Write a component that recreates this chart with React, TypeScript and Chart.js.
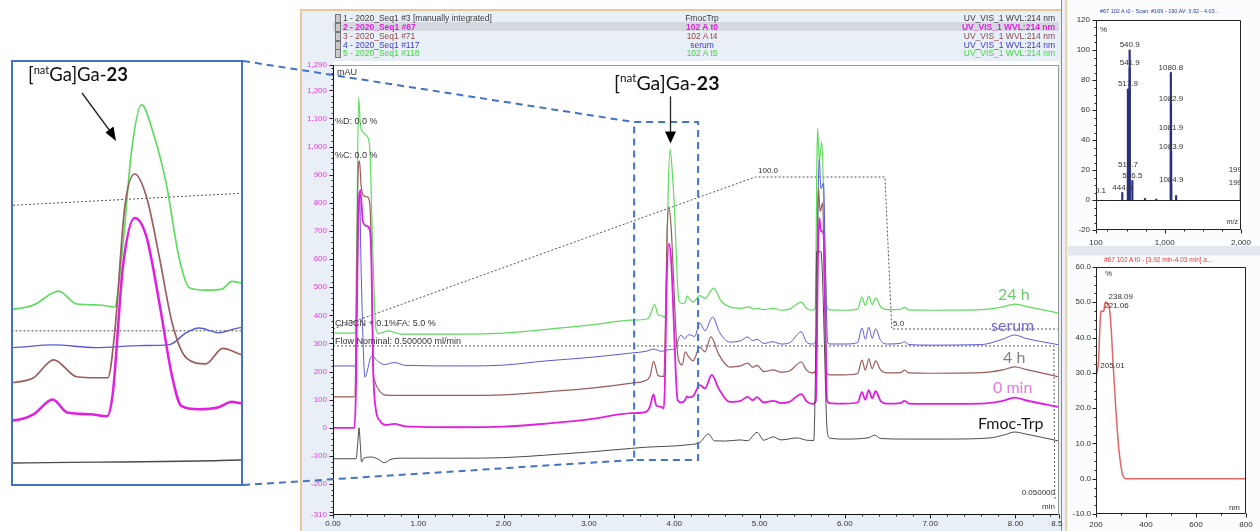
import React, { useEffect, useRef } from "react";
import { Chart, registerables } from "chart.js";

Chart.register(...registerables);

type Pt = [number, number];

// ---------------- Chromatogram traces: [time (min), absorbance (mAU)] ----------------
const fmocTrp: Pt[] = [
  [0, -110], [0.27, -110], [0.29, -55], [0.305, 0], [0.32, -60], [0.335, -122], [0.36, -108], [0.45, -104],
  [0.52, -110], [0.6, -124], [0.68, -112], [0.8, -108], [1.5, -108], [2.0, -106], [2.5, -97], [3.0, -86],
  [3.5, -73], [3.67, -69], [4.17, -60], [4.3, -52], [4.4, -22], [4.47, -46], [4.6, -47], [4.77, -43],
  [4.86, -46], [4.97, -16], [5.05, -44], [5.16, -32], [5.25, -43], [5.44, -36], [5.55, -44], [5.635, -45],
  [5.655, 200], [5.67, 626], [5.72, 626], [5.735, 560], [5.76, 300], [5.785, 30], [5.8, -25], [5.83, -37],
  [6.0, -40], [6.28, -35], [6.35, -26], [6.42, -38], [6.7, -40], [7.2, -40], [7.7, -36], [7.88, -24],
  [7.99, -15], [8.12, -22], [8.51, -47],
];
const t0min: Pt[] = [
  [0, 0], [0.25, 0], [0.27, 150], [0.29, 650], [0.32, 846], [0.35, 735], [0.39, 718], [0.43, 705], [0.45, 600],
  [0.47, 220], [0.5, 70], [0.55, 25], [0.62, 10], [0.72, 14], [0.85, 5], [1.5, 2], [2.0, 4], [2.5, 15], [3.0, 30],
  [3.5, 52], [3.67, 57], [3.715, 75], [3.757, 119], [3.789, 80], [3.839, 75], [3.876, 69], [3.889, 139],
  [3.911, 510], [3.937, 655], [3.963, 598], [3.991, 404], [4.019, 186], [4.039, 100], [4.078, 90], [4.121, 96],
  [4.15, 112], [4.17, 108], [4.22, 112], [4.3, 152], [4.36, 140], [4.44, 188], [4.52, 140], [4.65, 92],
  [4.78, 96], [4.86, 110], [4.92, 98], [4.97, 109], [5.05, 90], [5.16, 96], [5.25, 88], [5.35, 92], [5.49, 120],
  [5.55, 95], [5.62, 85], [5.66, 95], [5.685, 600], [5.7, 746], [5.72, 700], [5.75, 690], [5.77, 400], [5.79, 100],
  [5.82, 88], [6.0, 86], [6.15, 90], [6.2, 127], [6.24, 100], [6.28, 134], [6.32, 105], [6.36, 130], [6.42, 95],
  [6.5, 86], [6.65, 88], [6.7, 96], [6.75, 86], [7.0, 85], [7.6, 86], [7.85, 96], [7.99, 107], [8.12, 98], [8.51, 74],
];
const t4h: Pt[] = [
  [0, 110], [0.25, 110], [0.27, 300], [0.29, 850], [0.31, 949], [0.33, 860], [0.36, 825], [0.4, 821], [0.43, 800],
  [0.45, 620], [0.47, 220], [0.49, 165], [0.55, 130], [0.6, 117], [0.75, 115], [1.5, 115], [2.0, 117], [2.5, 128],
  [3.0, 140], [3.5, 159], [3.67, 169], [3.715, 183], [3.759, 236], [3.81, 186], [3.854, 183], [3.878, 183],
  [3.893, 316], [3.915, 687], [3.937, 785], [3.963, 716], [3.991, 539], [4.019, 345], [4.05, 242], [4.093, 224],
  [4.13, 270], [4.17, 252], [4.22, 238], [4.3, 287], [4.36, 270], [4.43, 323], [4.52, 262], [4.65, 216],
  [4.78, 220], [4.86, 230], [4.92, 215], [4.97, 222], [5.05, 200], [5.16, 206], [5.25, 198], [5.35, 202],
  [5.49, 234], [5.55, 205], [5.62, 195], [5.66, 205], [5.68, 700], [5.69, 852], [5.71, 770], [5.74, 800],
  [5.76, 500], [5.79, 195], [5.82, 188], [6.0, 188], [6.15, 193], [6.2, 241], [6.24, 205], [6.28, 245],
  [6.32, 210], [6.36, 238], [6.42, 205], [6.5, 195], [6.65, 196], [6.7, 205], [6.75, 195], [7.0, 194],
  [7.6, 196], [7.85, 206], [7.99, 217], [8.12, 208], [8.51, 181],
];
const serum: Pt[] = [
  [0, 220], [0.26, 220], [0.28, 450], [0.31, 838], [0.33, 560], [0.36, 240], [0.375, 180], [0.4, 200], [0.44, 250],
  [0.46, 255], [0.52, 238], [0.6, 225], [0.72, 232], [0.85, 222], [1.5, 220], [2.0, 223], [2.5, 238], [3.0, 250],
  [3.5, 266], [3.67, 272], [3.76, 280], [3.85, 272], [3.95, 278], [4.013, 281], [4.05, 316], [4.078, 330],
  [4.121, 316], [4.17, 331], [4.24, 325], [4.3, 373], [4.36, 345], [4.45, 394], [4.53, 340], [4.65, 305],
  [4.78, 310], [4.86, 323], [4.92, 310], [4.97, 315], [5.05, 300], [5.16, 306], [5.25, 298], [5.35, 302],
  [5.49, 341], [5.55, 305], [5.62, 298], [5.665, 315], [5.685, 800], [5.7, 955], [5.72, 850], [5.75, 870],
  [5.77, 600], [5.8, 301], [5.85, 298], [6.0, 298], [6.15, 303], [6.2, 355], [6.24, 315], [6.28, 358],
  [6.32, 318], [6.36, 352], [6.42, 310], [6.5, 298], [6.65, 300], [6.7, 306], [6.75, 296], [7.0, 294],
  [7.6, 296], [7.85, 315], [7.99, 330], [8.12, 318], [8.51, 295],
];
const t24h: Pt[] = [
  [0, 337], [0.26, 337], [0.28, 700], [0.3, 1176], [0.32, 1080], [0.35, 1052], [0.39, 1040], [0.43, 1000],
  [0.46, 700], [0.5, 360], [0.53, 335], [0.65, 345], [0.8, 333], [1.5, 333], [2.0, 337], [2.5, 350], [3.0, 365],
  [3.5, 383], [3.67, 386], [3.715, 398], [3.77, 439], [3.81, 401], [3.86, 398], [3.893, 392], [3.91, 560],
  [3.93, 854], [3.952, 990], [3.976, 913], [4.006, 757], [4.034, 539], [4.056, 450], [4.093, 442], [4.128, 445],
  [4.15, 468], [4.17, 463], [4.22, 447], [4.3, 470], [4.36, 460], [4.46, 497], [4.55, 450], [4.65, 430],
  [4.78, 425], [4.88, 430], [4.93, 422], [4.98, 425], [5.05, 420], [5.16, 425], [5.25, 418], [5.35, 422],
  [5.49, 447], [5.55, 425], [5.62, 418], [5.655, 430], [5.67, 900], [5.68, 1066], [5.7, 950], [5.73, 1016],
  [5.76, 700], [5.79, 430], [5.82, 419], [6.0, 418], [6.15, 422], [6.2, 465], [6.24, 435], [6.28, 468],
  [6.32, 438], [6.36, 462], [6.42, 430], [6.5, 420], [6.65, 421], [6.7, 428], [6.75, 419], [7.0, 418],
  [7.6, 420], [7.85, 430], [7.99, 440], [8.12, 432], [8.51, 408],
];

// Gradient (% CH3CN) and flow (ml/min) programme
const gradientTime = [0, 4.95, 6.47, 6.55, 8.51];
const gradientPct = [5, 100, 100, 5, 5];
const flowTime = [0, 8.45, 8.46, 8.51];
const flowRate = [0.5, 0.5, 0.05, 0.05];

// Main axis tick labels
const timeTickLabels = [0, 1, 2, 3, 4, 5, 6, 7, 8, 8.51];
const mauTickLabels = [-310, -200, -100, 0, 100, 200, 300, 400, 500, 600, 700, 800, 900, 1000, 1100, 1200, 1290];

// Zoomed window (min / mAU) shown in the inset
const zoomT = [3.53, 4.28];
const zoomMau = [-114, 1087];
const insetT = [3.67, 4.17];

// Mass spectrum (m/z, relative %)
const msMz = [100.1, 444.5, 517.9, 519.7, 540.9, 541.9, 576.5, 742, 890, 1080.8, 1081.9, 1082.9, 1083.9, 1084.9, 1150, 1998.5, 1999.2];
const msPct = [2.5, 5, 74, 20, 100, 88, 13, 1, 0.6, 85, 45, 64, 32, 10, 3, 17, 8];
const msLabels = ["100.1", "444.5", "517.9", "519.7", "540.9", "541.9", "576.5", "", "", "1080.8", "1081.9", "1082.9", "1083.9", "1084.9", "", "1998.5", "1999.2"];
const msXTicks = [100, 1000, 2000];
const msYTicks = [-20, 0, 20, 40, 60, 80, 100, 120];

// UV spectrum (nm, %)
const uvNm = [200, 203, 205.01, 210, 215, 219, 221.06, 226, 231, 235, 238.09, 243, 250, 256, 262, 268, 274, 280, 286, 292, 298, 305, 312, 320, 400, 500, 600, 700, 800];
const uvPct = [29, 29.8, 30.5, 33, 42, 47, 47.6, 47.4, 47.5, 49.5, 50.1, 50, 49.3, 47, 41, 33, 26, 19, 13, 8, 4.5, 1.5, 0.3, 0, 0, 0, 0, 0, 0];
const uvPeakNm = [205.01, 221.06, 238.09];
const uvXTicks = [200, 400, 600, 800];
const uvYTicks = [-10, 0, 10, 20, 30, 40, 50, 60];

const legendRows = [
  { id: "1 - 2020_Seq1 #3 [manually integrated]", name: "FmocTrp", ch: "UV_VIS_1 WVL:214 nm", color: "#3a3a3a", bold: false },
  { id: "2 - 2020_Seq1 #67", name: "102 A t0", ch: "UV_VIS_1 WVL:214 nm", color: "#e01ee0", bold: true },
  { id: "3 - 2020_Seq1 #71", name: "102 A t4", ch: "UV_VIS_1 WVL:214 nm", color: "#8b4a4a", bold: false },
  { id: "4 - 2020_Seq1 #117", name: "serum", ch: "UV_VIS_1 WVL:214 nm", color: "#3b3bc4", bold: false },
  { id: "5 - 2020_Seq1 #118", name: "102 A t5", ch: "UV_VIS_1 WVL:214 nm", color: "#42d442", bold: false },
];

const traces = [
  { data: fmocTrp, color: "#4a4a4a", width: 1 },
  { data: t0min, color: "#e11fe1", width: 1.8 },
  { data: t4h, color: "#9a5c5c", width: 1.2 },
  { data: serum, color: "#5a5ad8", width: 1 },
  { data: t24h, color: "#5fdc5f", width: 1.2 },
];

// ---------------- layout constants ----------------
const INSET = { left: 11, top: 60, right: 243, bottom: 486 };
const FONT = "'Liberation Sans', Arial, sans-serif";
const BIG = "Lato, 'Open Sans', sans-serif";

function range(a: number, b: number, step: number) {
  const out: number[] = [];
  for (let v = a; v <= b + 1e-9; v += step) out.push(Math.round(v * 1000) / 1000);
  return out;
}

type AxisDecor = { scale: string; major: number[]; minor: number[]; pos: "left" | "bottom" };
function makeDecor(o: { bgTop: number; frame: string[]; axes: AxisDecor[]; zero?: boolean }) {
  return {
    id: "decor",
    beforeDatasetsDraw(chart: any) {
      const { ctx, chartArea: a } = chart;
      ctx.save();
      ctx.fillStyle = "#ffffff";
      ctx.fillRect(a.left, a.top - o.bgTop, a.right - a.left, a.bottom - a.top + o.bgTop);
      ctx.restore();
    },
    afterDatasetsDraw(chart: any) {
      const { ctx, chartArea: a } = chart;
      ctx.save();
      ctx.lineWidth = 1;
      ctx.setLineDash([]);
      const line = (x1: number, y1: number, x2: number, y2: number, c: string) => {
        ctx.strokeStyle = c;
        ctx.beginPath();
        ctx.moveTo(x1, y1);
        ctx.lineTo(x2, y2);
        ctx.stroke();
      };
      const L = Math.round(a.left) + 0.5, R = Math.round(a.right) - 0.5;
      const T = Math.round(a.top) + 0.5, B = Math.round(a.bottom) - 0.5;
      const [ct, cr, cb, cl] = o.frame;
      if (ct) line(L, T, R, T, ct);
      if (cr) line(R, T, R, B, cr);
      if (cb) line(L, B, R, B, cb);
      if (cl) line(L, T, L, B, cl);
      for (const ax of o.axes) {
        const s = chart.scales[ax.scale];
        const draw = (v: number, len: number) => {
          const p = Math.round(s.getPixelForValue(v)) + 0.5;
          if (ax.pos === "left") line(L - len, p, L, p, "#222");
          else line(p, B, p, B + len, "#222");
        };
        ax.minor.forEach((v) => draw(v, 2));
        ax.major.forEach((v) => draw(v, 4));
      }
      if (o.zero) {
        const y0 = Math.round(chart.scales.y.getPixelForValue(0)) + 0.5;
        line(L, y0, R, y0, "#222");
      }
      ctx.restore();
    },
  };
}

function traceDatasets(widthScale: number) {
  const ds: any[] = traces.map((t) => ({
    data: t.data.map(([x, y]) => ({ x, y })),
    borderColor: t.color,
    borderWidth: t.width * widthScale,
    pointRadius: 0,
    fill: false,
    cubicInterpolationMode: "monotone",
    yAxisID: "y",
  }));
  ds.push({
    data: gradientTime.map((x, i) => ({ x, y: gradientPct[i] })),
    borderColor: "#555",
    borderWidth: 1,
    borderDash: [2, 2],
    pointRadius: 0,
    tension: 0,
    yAxisID: "yPct",
  });
  ds.push({
    data: flowTime.map((x, i) => ({ x, y: flowRate[i] })),
    borderColor: "#555",
    borderWidth: 1,
    borderDash: [2, 2],
    pointRadius: 0,
    tension: 0,
    yAxisID: "yFlow",
  });
  return ds;
}

const tickFont = { family: FONT, size: 8 };

function Txt(p: { x: number; y: number; size: number; color?: string; family?: string; align?: "left" | "right" | "center"; weight?: number; children: any; z?: number }) {
  const tx = p.align === "right" ? "-100%" : p.align === "center" ? "-50%" : "0";
  return (
    <div
      style={{
        position: "absolute",
        left: p.x,
        top: p.y,
        transform: `translate(${tx}, -50%)`,
        fontFamily: p.family || FONT,
        fontSize: p.size,
        color: p.color || "#333",
        fontWeight: p.weight || 400,
        whiteSpace: "nowrap",
        lineHeight: 1,
        zIndex: p.z || 5,
      }}
    >
      {p.children}
    </div>
  );
}

function GaLabel({ x, y, size }: { x: number; y: number; size: number }) {
  return (
    <Txt x={x} y={y} size={size} family={BIG} color="#111">
      [<span style={{ fontSize: "0.6em", verticalAlign: "0.65em" }}>nat</span>Ga]Ga-<b>23</b>
    </Txt>
  );
}

export default function App() {
  const mainRef = useRef<HTMLCanvasElement>(null);
  const insetRef = useRef<HTMLCanvasElement>(null);
  const msRef = useRef<HTMLCanvasElement>(null);
  const uvRef = useRef<HTMLCanvasElement>(null);

  useEffect(() => {
    const charts: Chart[] = [];

    // ---------- main chromatogram ----------
    const mainExtras = {
      id: "mainExtras",
      afterDatasetsDraw(chart: any) {
        const { ctx } = chart;
        const x = chart.scales.x, y = chart.scales.y;
        const L = x.getPixelForValue(zoomT[0]), R = x.getPixelForValue(zoomT[1]);
        const T = y.getPixelForValue(zoomMau[1]), B = y.getPixelForValue(zoomMau[0]);
        ctx.save();
        ctx.strokeStyle = "#4472c4";
        ctx.lineWidth = 2;
        ctx.setLineDash([7, 5]);
        ctx.strokeRect(L, T, R - L, B - T);
        ctx.beginPath();
        ctx.moveTo(INSET.right, INSET.top + 1);
        ctx.lineTo(L, T);
        ctx.moveTo(INSET.right, INSET.bottom - 1);
        ctx.lineTo(L, B);
        ctx.stroke();
        // arrow pointing at the [natGa]Ga-23 peak (max of 24 h trace in window)
        let best = t24h[0];
        t24h.forEach((p) => { if (p[0] > zoomT[0] && p[0] < zoomT[1] && p[1] > best[1]) best = p; });
        const px = Math.round(x.getPixelForValue(best[0])) + 0.5;
        const tip = y.getPixelForValue(best[1]) - 6;
        ctx.setLineDash([]);
        ctx.strokeStyle = "#222";
        ctx.lineWidth = 1.3;
        ctx.beginPath();
        ctx.moveTo(px, tip - 47);
        ctx.lineTo(px, tip - 10);
        ctx.stroke();
        ctx.fillStyle = "#000";
        ctx.beginPath();
        ctx.moveTo(px - 5.5, tip - 12);
        ctx.lineTo(px + 5.5, tip - 12);
        ctx.lineTo(px, tip);
        ctx.closePath();
        ctx.fill();
        ctx.restore();
      },
    };

    if (mainRef.current) {
      charts.push(
        new Chart(mainRef.current, {
          type: "line",
          data: { datasets: traceDatasets(1) },
          options: {
            animation: false,
            responsive: false,
            devicePixelRatio: 1,
            events: [],
            layout: { padding: { left: 300, right: 3, top: 65, bottom: 0 } },
            plugins: { legend: { display: false }, tooltip: { enabled: false } },
            scales: {
              x: {
                type: "linear",
                min: 0,
                max: 8.51,
                afterBuildTicks: (s: any) => { s.ticks = timeTickLabels.map((v) => ({ value: v })); },
                afterFit: (s: any) => { s.height = 16; s.paddingLeft = 0; s.paddingRight = 0; },
                grid: { display: false, drawTicks: false },
                border: { display: false },
                ticks: { padding: 4, autoSkip: false, maxRotation: 0, color: "#333", font: tickFont, callback: (v: any) => Number(v).toFixed(2) },
              },
              y: {
                type: "linear",
                min: -310,
                max: 1290,
                afterBuildTicks: (s: any) => { s.ticks = mauTickLabels.map((v) => ({ value: v })); },
                afterFit: (s: any) => { s.width = 33; s.paddingTop = 0; s.paddingBottom = 0; },
                grid: { display: false, drawTicks: false },
                border: { display: false },
                ticks: { padding: 6, autoSkip: false, color: "#e040e0", font: tickFont, callback: (v: any) => Number(v).toLocaleString("en-US") },
              },
              yPct: { type: "linear", display: false, min: -111.25, max: 170 },
              yFlow: { type: "linear", display: false, min: 0, max: 1.331 },
            },
          } as any,
          plugins: [
            makeDecor({
              bgTop: 4,
              frame: ["#9a9a9a", "#9a9a9a", "#111", "#111"],
              axes: [
                { scale: "y", major: [...range(-300, 1200, 100), -310, 1290], minor: range(-300, 1280, 20), pos: "left" },
                { scale: "x", major: [...range(0, 8, 1), 8.51], minor: range(0, 8.4, 0.2), pos: "bottom" },
              ],
            }),
            mainExtras,
          ],
        })
      );
    }

    // ---------- inset (zoom of the main window) ----------
    if (insetRef.current) {
      charts.push(
        new Chart(insetRef.current, {
          type: "line",
          data: { datasets: traceDatasets(1.4) },
          options: {
            animation: false,
            responsive: false,
            devicePixelRatio: 1,
            events: [],
            layout: { padding: 0 },
            plugins: { legend: { display: false }, tooltip: { enabled: false } },
            scales: {
              x: { type: "linear", display: false, min: insetT[0], max: insetT[1] },
              y: { type: "linear", display: false, min: -131, max: 1116 },
              yPct: { type: "linear", display: false, min: -148.6, max: 190.6 },
              yFlow: { type: "linear", display: false, min: 0, max: 1.377 },
            },
          } as any,
        })
      );
    }

    // ---------- mass spectrum ----------
    const msLabelPlugin = {
      id: "msLabels",
      afterDatasetsDraw(chart: any) {
        const { ctx, chartArea: a } = chart;
        const x = chart.scales.x, y = chart.scales.y;
        ctx.save();
        ctx.beginPath();
        ctx.rect(a.left, a.top, a.right - a.left, a.bottom - a.top);
        ctx.clip();
        ctx.font = `8px ${FONT}`;
        ctx.fillStyle = "#333";
        ctx.textAlign = "center";
        ctx.textBaseline = "bottom";
        msMz.forEach((m, i) => {
          if (!msLabels[i]) return;
          ctx.fillText(msLabels[i], x.getPixelForValue(m), y.getPixelForValue(msPct[i]) - 1);
        });
        ctx.restore();
      },
    };
    if (msRef.current) {
      charts.push(
        new Chart(msRef.current, {
          type: "bar",
          data: {
            datasets: [
              {
                data: msMz.map((m, i) => ({ x: m, y: msPct[i] })),
                backgroundColor: "#28307f",
                barThickness: 1.5,
                borderWidth: 0,
              },
            ],
          },
          options: {
            animation: false,
            responsive: false,
            devicePixelRatio: 1,
            events: [],
            layout: { padding: { left: 0, right: 19, top: 20, bottom: 0 } },
            plugins: { legend: { display: false }, tooltip: { enabled: false } },
            scales: {
              x: {
                type: "linear",
                min: 100,
                max: 2000,
                offset: false,
                afterBuildTicks: (s: any) => { s.ticks = msXTicks.map((v) => ({ value: v })); },
                afterFit: (s: any) => { s.height = 25; s.paddingLeft = 0; s.paddingRight = 0; },
                grid: { display: false, drawTicks: false },
                border: { display: false },
                ticks: { padding: 8, autoSkip: false, maxRotation: 0, color: "#333", font: tickFont, callback: (v: any) => Number(v).toLocaleString("en-US") },
              },
              y: {
                type: "linear",
                min: -20,
                max: 120,
                afterBuildTicks: (s: any) => { s.ticks = msYTicks.map((v) => ({ value: v })); },
                afterFit: (s: any) => { s.width = 33; s.paddingTop = 0; s.paddingBottom = 0; },
                grid: { display: false, drawTicks: false },
                border: { display: false },
                ticks: { padding: 6, autoSkip: false, color: "#333", font: tickFont },
              },
            },
          } as any,
          plugins: [
            makeDecor({
              bgTop: 0,
              frame: ["#222", "#222", "#222", "#222"],
              axes: [
                { scale: "y", major: msYTicks, minor: range(-20, 120, 5), pos: "left" },
                { scale: "x", major: msXTicks, minor: [250, 500, 750, 1250, 1500, 1750], pos: "bottom" },
              ],
              zero: true,
            }),
            msLabelPlugin,
          ],
        })
      );
    }

    // ---------- UV spectrum ----------
    const uvLabelPlugin = {
      id: "uvLabels",
      afterDatasetsDraw(chart: any) {
        const { ctx } = chart;
        const x = chart.scales.x, y = chart.scales.y;
        ctx.save();
        ctx.font = `8px ${FONT}`;
        ctx.fillStyle = "#333";
        ctx.textAlign = "left";
        ctx.textBaseline = "bottom";
        uvPeakNm.forEach((nm) => {
          const i = uvNm.indexOf(nm);
          ctx.fillText(nm.toFixed(2), x.getPixelForValue(nm) + 3, y.getPixelForValue(uvPct[i]) - 1);
        });
        ctx.restore();
      },
    };
    if (uvRef.current) {
      charts.push(
        new Chart(uvRef.current, {
          type: "line",
          data: {
            datasets: [
              {
                data: uvNm.map((n, i) => ({ x: n, y: uvPct[i] })),
                borderColor: "#e06666",
                borderWidth: 1.5,
                pointRadius: 0,
                cubicInterpolationMode: "monotone",
              },
            ],
          },
          options: {
            animation: false,
            responsive: false,
            devicePixelRatio: 1,
            events: [],
            layout: { padding: { left: 0, right: 14, top: 12, bottom: 0 } },
            plugins: { legend: { display: false }, tooltip: { enabled: false } },
            scales: {
              x: {
                type: "linear",
                min: 200,
                max: 800,
                afterBuildTicks: (s: any) => { s.ticks = uvXTicks.map((v) => ({ value: v })); },
                afterFit: (s: any) => { s.height = 17; s.paddingLeft = 0; s.paddingRight = 0; },
                grid: { display: false, drawTicks: false },
                border: { display: false },
                ticks: { padding: 6, autoSkip: false, maxRotation: 0, color: "#333", font: tickFont },
              },
              y: {
                type: "linear",
                min: -10,
                max: 60,
                afterBuildTicks: (s: any) => { s.ticks = uvYTicks.map((v) => ({ value: v })); },
                afterFit: (s: any) => { s.width = 33; s.paddingTop = 0; s.paddingBottom = 0; },
                grid: { display: false, drawTicks: false },
                border: { display: false },
                ticks: { padding: 5, autoSkip: false, color: "#333", font: tickFont, callback: (v: any) => Number(v).toFixed(1) },
              },
            },
          } as any,
          plugins: [
            makeDecor({
              bgTop: 0,
              frame: ["#222", "#222", "#222", "#222"],
              axes: [
                { scale: "y", major: uvYTicks, minor: range(-10, 60, 2.5), pos: "left" },
                { scale: "x", major: uvXTicks, minor: [300, 500, 700], pos: "bottom" },
              ],
            }),
            uvLabelPlugin,
          ],
        })
      );
    }

    return () => charts.forEach((c) => c.destroy());
  }, []);

  const rowY = [17.5, 26.5, 35.5, 44.5, 53];

  return (
    <div style={{ position: "fixed", left: 0, top: 0, width: 1260, height: 531, background: "#fff", overflow: "hidden", fontFamily: FONT }}>
      {/* main panel background */}
      <div style={{ position: "absolute", left: 300, top: 9, width: 760, height: 522, background: "#e9eff7", borderLeft: "2px solid #e6c89c", borderTop: "2px solid #e6c89c" }} />
      <div style={{ position: "absolute", left: 333, top: 22, width: 726, height: 9, background: "#d5d9df" }} />
      {/* right panels background */}
      <div style={{ position: "absolute", left: 1061, top: 0, width: 199, height: 531, background: "#eef2f8", borderLeft: "1px solid #8a8a8a" }} />
      <div style={{ position: "absolute", left: 1065, top: 0, width: 2, height: 531, background: "#ead3ae" }} />
      <div style={{ position: "absolute", left: 1068, top: 0, width: 192, height: 246, background: "#fbfcfe" }} />
      <div style={{ position: "absolute", left: 1068, top: 246, width: 192, height: 9, background: "#e2e7ef" }} />
      <div style={{ position: "absolute", left: 1068, top: 256, width: 192, height: 275, background: "#fbfcfe" }} />

      {/* header legend rows */}
      {legendRows.map((r, i) => (
        <React.Fragment key={i}>
          <div style={{ position: "absolute", left: 335, top: rowY[i] - 4, width: 4, height: 7, border: "1px solid #777", background: "#c9c9c9", zIndex: 5 }} />
          <Txt x={343} y={rowY[i]} size={8.5} color={r.color} weight={r.bold ? 700 : 400}>{r.id}</Txt>
          <Txt x={702} y={rowY[i]} size={8.5} color={r.color} weight={r.bold ? 700 : 400} align="center">{r.name}</Txt>
          <Txt x={1055} y={rowY[i]} size={8.5} color={r.color} weight={r.bold ? 700 : 400} align="right">{r.ch}</Txt>
        </React.Fragment>
      ))}

      <canvas ref={mainRef} width={1062} height={531} style={{ position: "absolute", left: 0, top: 0, zIndex: 2 }} />

      {/* inset */}
      <div style={{ position: "absolute", left: INSET.left, top: INSET.top, width: INSET.right - INSET.left - 4, height: INSET.bottom - INSET.top - 4, border: "2px solid #4472c4", background: "#fff", zIndex: 3 }}>
        <canvas ref={insetRef} width={INSET.right - INSET.left - 4} height={INSET.bottom - INSET.top - 4} style={{ display: "block" }} />
      </div>
      <GaLabel x={28} y={74} size={18.5} />
      <svg width={260} height={200} style={{ position: "absolute", left: 0, top: 0, zIndex: 6 }}>
        <line x1={82} y1={93} x2={110} y2={131} stroke="#222" strokeWidth={1.3} />
        <polygon points="116,141 105.5,132.5 113.5,126.5" fill="#000" />
      </svg>

      {/* main chart annotations */}
      <GaLabel x={614} y={82} size={19.5} />
      <Txt x={337} y={72} size={9}>mAU</Txt>
      <Txt x={335} y={121} size={9}>%D: 0.0 %</Txt>
      <Txt x={335} y={155} size={9}>%C: 0.0 %</Txt>
      <Txt x={335} y={323} size={9}>CH3CN + 0.1%FA: 5.0 %</Txt>
      <Txt x={335} y={341} size={9}>Flow Nominal: 0.500000 ml/min</Txt>
      <Txt x={758} y={171} size={8}>100.0</Txt>
      <Txt x={893} y={324} size={8}>5.0</Txt>
      <Txt x={1055} y={493} size={8} align="right">0.050000</Txt>
      <Txt x={1055} y={507} size={8} align="right">min</Txt>
      <Txt x={998} y={294} size={16} family={BIG} color="#6acb6a">24 h</Txt>
      <Txt x={991} y={325} size={16} family={BIG} color="#6b6bd2">serum</Txt>
      <Txt x={1003} y={357} size={16} family={BIG} color="#7f7f7f">4 h</Txt>
      <Txt x={993} y={387} size={16} family={BIG} color="#e07ae0">0 min</Txt>
      <Txt x={978} y={423} size={16} family={BIG} color="#1a1a1a">Fmoc-Trp</Txt>

      {/* mass spectrum */}
      <canvas ref={msRef} width={197} height={255} style={{ position: "absolute", left: 1063, top: 0, zIndex: 2 }} />
      <Txt x={1100} y={12} size={5.5} color="#2b3f9e">#67 102 A t0 - Scan: #169 - 190  AV: 3.92 - 4.03...</Txt>
      <Txt x={1100} y={30} size={8}>%</Txt>
      <Txt x={1238} y={221} size={7} align="right">m/z</Txt>

      {/* UV spectrum */}
      <canvas ref={uvRef} width={197} height={276} style={{ position: "absolute", left: 1063, top: 255, zIndex: 2 }} />
      <Txt x={1104} y={260} size={6.5} color="#e23b3b">#67 102 A t0 - [3.92 min-4.03 min] a...</Txt>
      <Txt x={1105} y={274} size={8}>%</Txt>
      <Txt x={1240} y={508} size={8} align="right">nm</Txt>
    </div>
  );
}
